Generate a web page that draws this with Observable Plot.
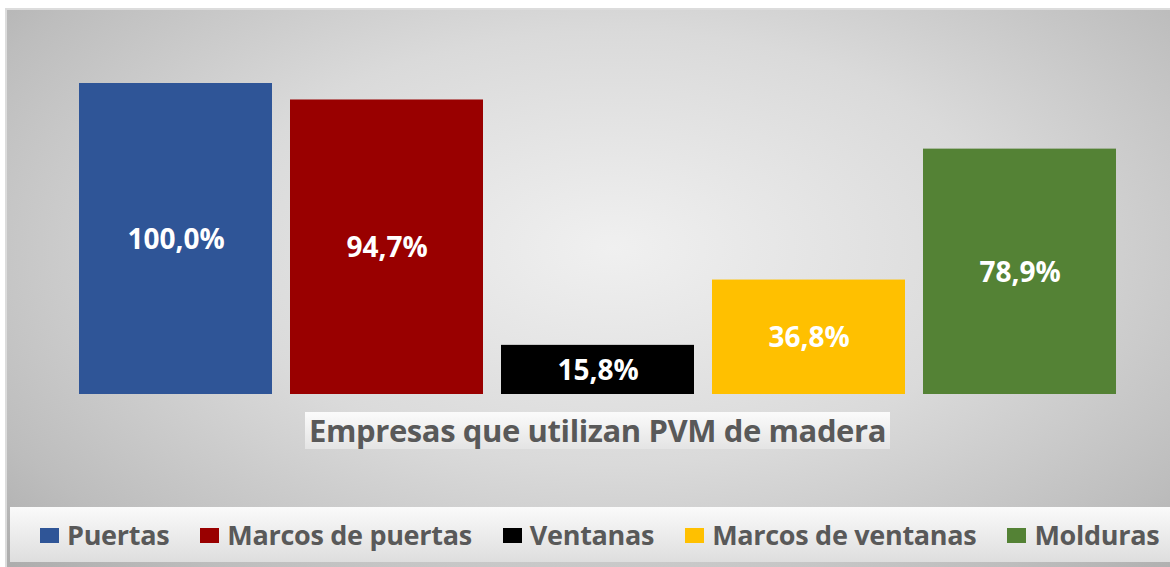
<!DOCTYPE html>
<html><head><meta charset="utf-8">
<script src="https://cdn.jsdelivr.net/npm/d3@7"></script>
<script src="https://cdn.jsdelivr.net/npm/@observablehq/plot@0.6"></script>
<style>
html,body{margin:0;padding:0;background:#fff;}
#wrap{position:relative;width:1170px;height:567px;overflow:hidden;font-family:"Open Sans",sans-serif;}
#bg{position:absolute;left:5px;top:8px;width:1170px;height:570px;border:2px solid #dcdcdc;box-sizing:border-box;
 background:radial-gradient(ellipse 75% 85% at 52% 42%, #f0f0f0 0%, #dadada 45%, #bdbdbd 80%, #a8a8a8 100%);}
#chart{position:absolute;left:0;top:0;}
#title{position:absolute;left:305px;top:412px;width:585px;height:37px;background:linear-gradient(#fbfbfb,#e4e4e4);
 color:#595959;font-weight:700;font-size:31px;line-height:37px;text-align:center;white-space:nowrap;letter-spacing:-0.4px;}
#legend{position:absolute;left:10px;top:507px;width:1170px;height:55px;background:linear-gradient(#fafafa,#dedede);
 display:flex;align-items:center;padding-left:30px;box-sizing:border-box;}
.item{display:flex;align-items:center;margin-right:31px;color:#595959;font-weight:700;font-size:27px;white-space:nowrap;letter-spacing:-0.3px;}
.sw{width:19px;height:15px;margin-right:8px;margin-top:2px;}
</style></head>
<body>
<div id="wrap"><div id="bg"></div><div id="chart"></div><div id="title"></div><div id="legend"></div></div>
<script>
const categories = ["Puertas","Marcos de puertas","Ventanas","Marcos de ventanas","Molduras"];
const values = [100.0, 94.7, 15.8, 36.8, 78.9];
const colors = ["#2F5597","#990000","#000000","#FFC000","#548235"];
const titleText = "Empresas que utilizan PVM de madera";

const data = categories.map((c,i)=>({cat:c, value:values[i], label:d3.format(".1f")(values[i]).replace(".",",")+"%"}));

const plot = Plot.plot({
  width:1170, height:567,
  marginTop:83, marginBottom:173, marginLeft:61, marginRight:36,
  style:{background:"transparent", overflow:"visible"},
  x:{domain:categories, padding:0.085, axis:null},
  y:{domain:[0,100], axis:null},
  color:{domain:categories, range:colors},
  marks:[
    Plot.barY(data,{x:"cat", y:"value", fill:"cat"}),
    Plot.text(data,{x:"cat", y:d=>d.value/2, text:"label", fill:"white", fontSize:28, fontWeight:700, fontFamily:"'Open Sans', sans-serif", dy:1})
  ]
});
document.getElementById("chart").appendChild(plot);
document.getElementById("title").textContent = titleText;
const lg = d3.select("#legend");
categories.forEach((c,i)=>{
  const it = lg.append("div").attr("class","item");
  it.append("div").attr("class","sw").style("background",colors[i]);
  it.append("span").text(c);
});
</script>
</body></html>
